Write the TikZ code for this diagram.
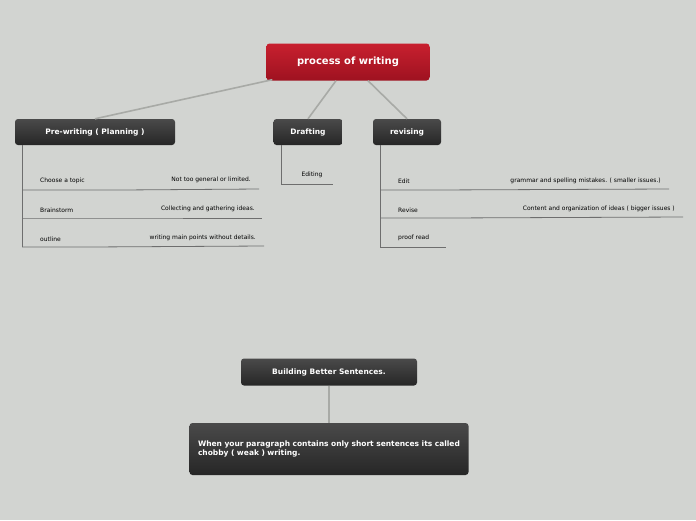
\documentclass[tikz,border=0pt]{standalone}
\usepackage{fontspec}
\setmainfont{DejaVu Sans}
\usetikzlibrary{positioning}
\definecolor{bgcol}{HTML}{D2D4D1}
\definecolor{topcol}{HTML}{C8202F}
\definecolor{botcol}{HTML}{9E1220}
\definecolor{darktop}{HTML}{4A4A4A}
\definecolor{darkbot}{HTML}{262626}
\definecolor{linkcol}{HTML}{A8AAA6}
\definecolor{leafcol}{HTML}{6E6E6E}
\begin{document}
\begin{tikzpicture}[x=1pt,y=-1pt,
  rootbox/.style={rounded corners=3pt,top color=topcol,bottom color=botcol,text=white,font=\bfseries\fontsize{10}{12}\selectfont,minimum height=37pt,minimum width=163pt},
  topicbox/.style={rounded corners=3pt,top color=darktop,bottom color=darkbot,text=white,font=\bfseries\fontsize{7.5}{9}\selectfont,minimum height=26pt},
  leaf/.style={font=\fontsize{6}{7}\selectfont,text=black,inner sep=1pt},
  link/.style={linkcol,line width=1.6pt},
  leafline/.style={leafcol,line width=0.8pt}]
  \fill[bgcol] (0,0) rectangle (696,520);
  \useasboundingbox (0,0) rectangle (696,520);
  % main topics
  \node[rootbox] (root) at (348,62) {process of writing};
  \node[topicbox,minimum width=160pt] (pre) at (95,132) {Pre-writing ( Planning )};
  \node[topicbox,minimum width=69pt] (draft) at (308,132) {Drafting};
  \node[topicbox,minimum width=68pt] (rev) at (407,132) {revising};
  \node[topicbox,minimum width=176pt,minimum height=27pt] (build) at (329,372) {Building Better Sentences.};
  \node[topicbox,minimum width=279pt,minimum height=52pt,text width=262pt,align=left] (para) at (329,449)
    {When your paragraph contains only short sentences its called chobby ( weak ) writing.};
  \draw[link] (root.south west) ++(6,-1) coordinate (r1) -- (pre.north -| 95,0) ;
  \draw[link] (root.south) ++(-12,0) -- (draft.north);
  \draw[link] (root.south) ++(20,0) -- (rev.north);
  \draw[link] (build.south) -- (para.north);
  % pre-writing leaves
  \coordinate (p0) at (22,145);
  \coordinate (p1) at (22,190); \coordinate (p1a) at (122,190); \coordinate (p1b) at (259,189);
  \coordinate (p2) at (22,218); \coordinate (p2a) at (106,218); \coordinate (p2b) at (262,218);
  \coordinate (p3) at (22,247); \coordinate (p3a) at (90,247); \coordinate (p3b) at (264,246);
  \draw[leafline] (p0) -- (p3);
  \draw[leafline] (p1) -- (p1a) -- (p1b);
  \draw[leafline] (p2) -- (p2a) -- (p2b);
  \draw[leafline] (p3) -- (p3a) -- (p3b);
  \node[leaf,anchor=west] (choose) at (39,181) {Choose a topic};
  \node[leaf,anchor=east] (choosed) at (252,180) {Not too general or limited.};
  \node[leaf,anchor=west] (brain) at (39,210) {Brainstorm};
  \node[leaf,anchor=east] (braind) at (256,209) {Collecting and gathering ideas.};
  \node[leaf,anchor=west] (outl) at (39,239) {outline};
  \node[leaf,anchor=east] (outld) at (257,238) {writing main points without details.};
  % drafting leaf
  \coordinate (d0) at (281,145); \coordinate (d1) at (281,184); \coordinate (d1a) at (333,184);
  \draw[leafline] (d0) -- (d1) -- (d1a);
  \node[leaf] (edit1) at (312,175) {Editing};
  % revising leaves
  \coordinate (v0) at (380,145);
  \coordinate (v1) at (380,190); \coordinate (v1a) at (435,190); \coordinate (v1b) at (669,189);
  \coordinate (v2) at (380,218); \coordinate (v2a) at (446,218); \coordinate (v2b) at (683,217);
  \coordinate (v3) at (380,247); \coordinate (v3a) at (446,247);
  \draw[leafline] (v0) -- (v3) -- (v3a);
  \draw[leafline] (v1) -- (v1a) -- (v1b);
  \draw[leafline] (v2) -- (v2a) -- (v2b);
  \node[leaf,anchor=west] (edit2) at (397,181) {Edit};
  \node[leaf,anchor=east] (edit2d) at (662,181) {grammar and spelling mistakes. ( smaller issues.)};
  \node[leaf,anchor=west] (revise) at (397,210) {Revise};
  \node[leaf,anchor=east] (revised) at (676,209) {Content and organization of ideas ( bigger issues )};
  \node[leaf,anchor=west] (proof) at (397,238) {proof read};
\end{tikzpicture}
\end{document}
